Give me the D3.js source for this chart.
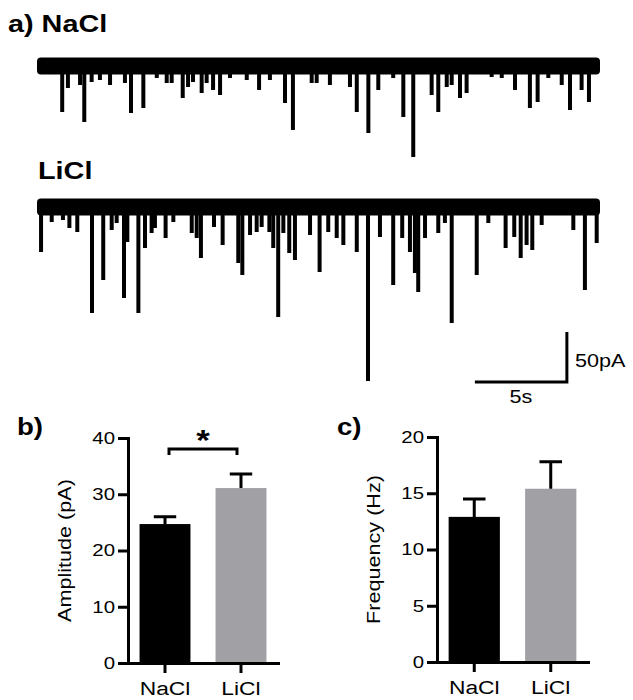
<!DOCTYPE html>
<html><head><meta charset="utf-8">
<script src="https://cdn.jsdelivr.net/npm/d3@7"></script>
<style>
body{margin:0;background:#fff}
svg{display:block}
text{font-family:"Liberation Sans",Arial,Helvetica,sans-serif;fill:#000}
</style>
</head><body>
<svg id="c" width="633" height="700"></svg>
<script>
// ---------- data ----------
const categories = ["NaCl", "LiCl"];
const amplitudeMean = [24.7, 31.1];
const amplitudeSem = [1.3, 2.5];
const frequencyMean = [12.9, 15.4];
const frequencySem = [1.6, 2.4];
const amplitudeTicks = [0, 10, 20, 30, 40];
const frequencyTicks = [0, 5, 10, 15, 20];

// recorded traces: event time (s) and amplitude (pA, inward)
const traceDuration = 30.6;
const naclEventTimes = [1.37,1.68,2.34,2.57,2.97,3.42,3.97,4.78,5.11,5.78,6.51,7.05,7.32,7.92,8.21,8.48,8.95,9.22,9.57,9.95,10.49,11.40,12.07,12.66,13.48,13.91,14.93,15.20,15.92,17.01,17.38,18.01,18.55,19.36,19.91,20.45,21.45,21.81,22.27,22.54,22.99,23.35,24.71,25.26,25.98,26.79,27.21,27.79,28.52,28.97,29.60,30.00];
const naclEventAmps = [46,22,19,56,16,14,19,17,47,42,12,17,17,32,21,16,27,17,24,29,12,14,24,14,37,64,17,17,19,21,46,67,24,12,51,91,29,46,21,19,32,27,11,12,24,42,36,12,19,44,24,36];
const liclEventTimes = [0.22,0.80,1.41,1.76,2.19,2.99,3.60,4.06,4.33,4.73,4.91,5.51,5.87,6.23,6.41,6.99,7.41,8.41,8.68,8.91,9.62,10.09,10.94,11.16,11.58,11.94,12.21,12.63,12.84,13.11,13.39,13.71,14.02,14.84,15.36,15.83,16.29,16.65,17.38,17.99,18.64,19.36,19.85,20.27,20.54,20.72,21.09,21.81,22.17,22.54,23.90,24.53,25.47,25.94,26.29,26.61,26.92,27.43,29.15,29.78,30.42];
const liclEventAmps = [45,15,13,21,25,106,73,23,16,91,35,106,41,26,21,31,15,26,31,51,20,38,56,68,28,25,20,25,41,110,26,46,53,28,65,25,31,38,45,174,30,78,31,45,66,85,31,26,16,116,68,16,41,30,51,38,43,18,23,83,36];
const noiseHalfWidth = 8.5; // pA
const scaleBarTime = 5;     // s
const scaleBarCurrent = 50; // pA

// ---------- drawing ----------
const SX = 1.2;
const svg = d3.select("#c");

function label(x, y, s, size, opts = {}) {
  return svg.append("text")
    .attr("transform", `translate(${x},${y})${opts.rotate ? " rotate(-90)" : ""} scale(${SX},1)`)
    .attr("text-anchor", opts.anchor || "start")
    .style("font-size", size + "px")
    .style("font-weight", opts.bold ? "bold" : "normal")
    .text(s);
}

// traces
const xT = d3.scaleLinear().domain([0, traceDuration]).range([37, 600]);
function trace(times, amps, y0) {
  const y = d3.scaleLinear().domain([0, 100]).range([y0, y0 + 100]);
  const g = svg.append("g");
  g.append("rect")
    .attr("x", xT(0)).attr("width", xT(traceDuration) - xT(0))
    .attr("y", y(-noiseHalfWidth)).attr("height", y(noiseHalfWidth) - y(-noiseHalfWidth))
    .attr("rx", 4).attr("fill", "#000");
  g.selectAll("line").data(times).join("line")
    .attr("x1", d => xT(d)).attr("x2", d => xT(d))
    .attr("y1", y(0)).attr("y2", (d, i) => y(amps[i]))
    .attr("stroke", "#000").attr("stroke-width", 4);
  return y;
}
trace(naclEventTimes, naclEventAmps, 66);
const yL = trace(liclEventTimes, liclEventAmps, 207);

// scale bar
const sbT0 = 23.8, sbI0 = 125;
svg.append("path")
  .attr("d", `M${xT(sbT0)},${yL(sbI0 + scaleBarCurrent)}H${xT(sbT0 + scaleBarTime)}V${yL(sbI0)}`)
  .attr("fill", "none").attr("stroke", "#000").attr("stroke-width", 3);
label(xT(sbT0 + scaleBarTime) + 8, 367, scaleBarCurrent + "pA", 18);
label((xT(sbT0) + xT(sbT0 + scaleBarTime)) / 2, 403, scaleBarTime + "s", 18, {anchor: "middle"});

// panel labels
label(8, 32, "a) NaCl", 24, {bold: true});
label(38, 179, "LiCl", 24, {bold: true});
label(17, 435, "b)", 23, {bold: true});
label(337, 435, "c)", 23, {bold: true});

// bar panels
function barPanel(x0, x1, yBottom, yTop, means, sems, ticks, title, titleX) {
  const x = d3.scaleBand().domain(categories).range([x0, x1]).paddingInner(0.33).paddingOuter(0.152);
  const y = d3.scaleLinear().domain([ticks[0], ticks[ticks.length - 1]]).range([yBottom, yTop]);
  const g = svg.append("g");
  const colors = ["#000000", "#a0a0a5"];
  g.selectAll("rect.bar").data(categories).join("rect").attr("class", "bar")
    .attr("x", d => x(d)).attr("width", x.bandwidth())
    .attr("y", (d, i) => y(means[i])).attr("height", (d, i) => y(0) - y(means[i]))
    .attr("fill", (d, i) => colors[i]);
  // error bars (upper only)
  const cap = x.bandwidth() * 0.44;
  g.selectAll("path.err").data(categories).join("path").attr("class", "err")
    .attr("d", (d, i) => {
      const cx = x(d) + x.bandwidth() / 2;
      return `M${cx},${y(means[i])}V${y(means[i] + sems[i])}M${cx - cap / 2},${y(means[i] + sems[i])}H${cx + cap / 2}`;
    })
    .attr("fill", "none").attr("stroke", "#000").attr("stroke-width", 3);
  // axes
  const ya = g.append("g").attr("transform", `translate(${x0},0)`)
    .call(d3.axisLeft(y).tickValues(ticks).tickSize(10).tickPadding(3).tickSizeOuter(0).tickFormat(d3.format("d")));
  const xa = g.append("g").attr("transform", `translate(0,${yBottom})`)
    .call(d3.axisBottom(x).tickSize(10).tickPadding(9).tickSizeOuter(0));
  [ya, xa].forEach(a => {
    a.select(".domain").attr("stroke-width", 3).attr("stroke-linecap", "square");
    a.selectAll(".tick line").attr("stroke-width", 3);
  });
  ya.selectAll(".tick text").style("font-size", "17px").style("font-family", null)
    .attr("x", -13 / SX).attr("transform", `scale(${SX},1)`);
  xa.selectAll(".tick text").style("font-size", "19px").style("font-family", null)
    .attr("transform", `scale(${SX},1)`);
  svg.selectAll(".tick text").attr("fill", "#000");
  label(titleX, (yBottom + yTop) / 2, title, 18, {rotate: true, anchor: "middle"});
  return {x, y};
}

const pb = barPanel(128, 278, 663, 438, amplitudeMean, amplitudeSem, amplitudeTicks, "Amplitude (pA)", 71);
barPanel(437, 588, 662, 437, frequencyMean, frequencySem, frequencyTicks, "Frequency (Hz)", 380);

// significance bracket
const bx1 = pb.x("NaCl") + pb.x.bandwidth() / 2 + 4;
const bx2 = pb.x("LiCl") + pb.x.bandwidth() / 2 - 4;
svg.append("path")
  .attr("d", `M${bx1},455V449H${bx2}V455`)
  .attr("fill", "none").attr("stroke", "#000").attr("stroke-width", 3);
label((bx1 + bx2) / 2, 450, "*", 29, {anchor: "middle", bold: true});
</script>
</body></html>
